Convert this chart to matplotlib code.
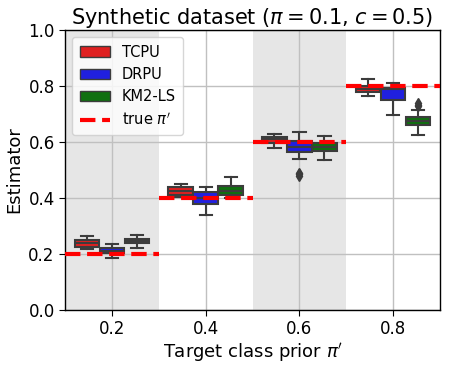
import matplotlib
matplotlib.use("Agg")
import matplotlib.pyplot as plt
from matplotlib.patches import Patch
from matplotlib.lines import Line2D

# Target class priors (x categories)
priors = [0.2, 0.4, 0.6, 0.8]
methods = ["TCPU", "DRPU", "KM2-LS"]
colors = ["#df2020", "#2020df", "#107010"]

# Box statistics: [whislo, q1, med, q3, whishi] per prior
tcpu = [[0.218, 0.226, 0.240, 0.251, 0.265],
        [0.405, 0.411, 0.425, 0.438, 0.451],
        [0.580, 0.595, 0.610, 0.619, 0.629],
        [0.764, 0.779, 0.788, 0.799, 0.825]]
drpu = [[0.187, 0.2025, 0.211, 0.221, 0.235],
        [0.340, 0.379, 0.401, 0.420, 0.438],
        [0.538, 0.564, 0.583, 0.604, 0.635],
        [0.696, 0.750, 0.790, 0.792, 0.812]]
km2 = [[0.221, 0.238, 0.246, 0.255, 0.268],
       [0.399, 0.410, 0.425, 0.444, 0.476],
       [0.536, 0.567, 0.581, 0.596, 0.623],
       [0.625, 0.660, 0.675, 0.690, 0.713]]
drpu_fliers = [[], [], [0.49, 0.484, 0.479], []]
km2_fliers = [[], [], [], [0.738, 0.732, 0.727]]
tcpu_fliers = [[], [], [], []]

data = [tcpu, drpu, km2]
fliers = [tcpu_fliers, drpu_fliers, km2_fliers]

fig = plt.figure(figsize=(4.49, 3.66), dpi=100)
ax = fig.add_axes([0.145, 0.153, 0.835, 0.765])

# shaded background for alternate groups
for i in range(len(priors)):
    if i % 2 == 0:
        ax.axvspan(i - 0.5, i + 0.5, color="#e6e6e6", zorder=0, lw=0)

edge = "#3c3c3c"
width = 0.8 / 3
for j, m in enumerate(methods):
    stats = []
    for i in range(len(priors)):
        lo, q1, med, q3, hi = data[j][i]
        stats.append(dict(whislo=lo, q1=q1, med=med, q3=q3, whishi=hi,
                          fliers=fliers[j][i]))
    pos = [i + (j - 1) * width for i in range(len(priors))]
    ax.bxp(stats, positions=pos, widths=width * 0.98, patch_artist=True,
           boxprops=dict(facecolor=colors[j], edgecolor=edge, lw=1.5),
           medianprops=dict(color=edge, lw=1.5),
           whiskerprops=dict(color=edge, lw=1.5),
           capprops=dict(color=edge, lw=1.5),
           flierprops=dict(marker="d", markerfacecolor=edge,
                           markeredgecolor=edge, markersize=5),
           manage_ticks=False, zorder=2)

# true prior lines
for i, p in enumerate(priors):
    ax.plot([i - 0.5, i + 0.5], [p, p], color="red", ls="--", lw=3, zorder=3)

ax.set_xlim(-0.5, len(priors) - 0.5)
ax.set_ylim(0, 1.0)
ax.set_xticks(range(len(priors)))
ax.set_xticklabels([str(p) for p in priors], fontsize=12)
ax.set_yticks([0.0, 0.2, 0.4, 0.6, 0.8, 1.0])
ax.set_yticklabels(["0.0", "0.2", "0.4", "0.6", "0.8", "1.0"], fontsize=12)
ax.grid(True, color="#c0c0c0", lw=1, zorder=1)
ax.set_axisbelow(True)
for s in ax.spines.values():
    s.set_color("black")
    s.set_linewidth(1)
ax.tick_params(length=4, color="black")

ax.set_xlabel("Target class prior $\\pi'$", fontsize=13, labelpad=2)
ax.set_ylabel("Estimator", fontsize=13)
ax.set_title("Synthetic dataset ($\\pi = 0.1$, $c = 0.5$)", fontsize=15, pad=4)

handles = [Patch(facecolor=c, edgecolor=edge, lw=1, label=m)
           for m, c in zip(methods, colors)]
handles.append(Line2D([], [], color="red", ls="--", lw=3, label="true $\\pi'$"))
ax.legend(handles=handles, loc="upper left", fontsize=10.5, framealpha=0.8,
          borderpad=0.5, handlelength=2.1, labelspacing=0.5)

fig.savefig("out.png", dpi=100)
